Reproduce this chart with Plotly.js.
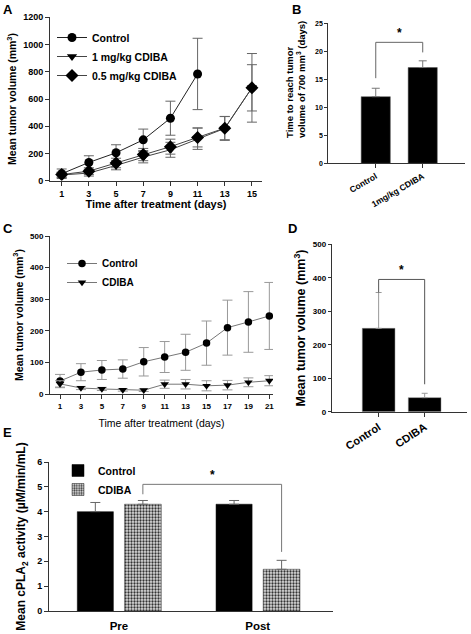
<!DOCTYPE html>
<html><head><meta charset="utf-8">
<script src="https://cdn.plot.ly/plotly-3.0.1.min.js"></script>
<style>html,body{margin:0;padding:0;background:#fff}#chart{width:471px;height:634px}</style>
</head><body><div id="chart"></div>
<script>
// ---------- Panel A ----------
const daysA = [1, 3, 5, 7, 9, 11, 13, 15];
const daysAControl = [1, 3, 5, 7, 9, 11];
const controlA = [51, 134, 205, 300, 459, 784];
const controlAErr = [35, 49, 59, 79, 125, 262];
const cdiba1A = [42, 56, 112, 173, 227, 308, 384, 682];
const cdiba1AErr = [18, 22, 32, 42, 55, 78, 88, 252];
const cdiba05A = [45, 70, 130, 192, 250, 318, 386, 682];
const cdiba05AErr = [18, 25, 35, 45, 55, 70, 85, 170];
// ---------- Panel B ----------
const catsB = ['Control', '1mg/kg CDIBA'];
const valsB = [11.9, 17.1];
const errB = [1.5, 1.2];
// ---------- Panel C ----------
const daysC = [1, 3, 5, 7, 9, 11, 13, 15, 17, 19, 21];
const controlC = [41, 69, 76, 79, 102, 117, 132, 161, 210, 228, 247];
const controlCErr = [21, 27, 30, 29, 45, 49, 57, 70, 87, 96, 106];
const cdibaC = [32, 19, 16, 13, 12, 31, 31, 26, 28, 37, 42];
const cdibaCErr = [10, 5, 5, 4, 4, 13, 15, 16, 15, 14, 16];
// ---------- Panel D ----------
const catsD = ['Control', 'CDIBA'];
const valsD = [249, 42];
const errD = [107, 13];
// ---------- Panel E ----------
const catsE = ['Pre', 'Post'];
const controlE = [4.0, 4.3];
const controlEErr = [0.37, 0.15];
const cdibaE = [4.3, 1.68];
const cdibaEErr = [0.15, 0.36];

const W = 471, H = 634;
const FONT = 'Liberation Sans, Arial, sans-serif';
const px = v => v / W;
const py = v => 1 - v / H;
const AX = '#333';

function errY(arr, color, thick, w, minus) {
  const o = {type: 'data', array: arr, color: color, thickness: thick, width: w, visible: true};
  if (minus) o.arrayminus = minus;
  return o;
}

const traces = [
  // A
  {x: daysAControl, y: controlA, xaxis: 'x', yaxis: 'y', mode: 'lines+markers', name: 'Control',
   line: {color: '#222', width: 1}, marker: {symbol: 'circle', size: 9, color: '#000'},
   error_y: errY(controlAErr, '#666', 1, 5), legend: 'legend'},
  {x: daysA, y: cdiba1A, xaxis: 'x', yaxis: 'y', mode: 'lines+markers', name: '1 mg/kg CDIBA',
   line: {color: '#444', width: 1}, marker: {symbol: 'triangle-down', size: 9, color: '#000'},
   error_y: errY(cdiba1AErr, '#666', 1, 5), legend: 'legend'},
  {x: daysA, y: cdiba05A, xaxis: 'x', yaxis: 'y', mode: 'lines+markers', name: '0.5 mg/kg CDIBA',
   line: {color: '#444', width: 1}, marker: {symbol: 'diamond', size: 10, color: '#000'},
   error_y: errY(cdiba05AErr, '#666', 1, 5), legend: 'legend'},
  // B
  {type: 'bar', x: catsB, y: valsB, xaxis: 'x2', yaxis: 'y2', width: 0.62, showlegend: false,
   marker: {color: '#000', line: {color: '#555', width: 0.5}},
   error_y: errY(errB, '#777', 1, 4, [0, 0])},
  // C
  {x: daysC, y: controlC, xaxis: 'x3', yaxis: 'y3', mode: 'lines+markers', name: 'Control',
   line: {color: '#777', width: 1}, marker: {symbol: 'circle', size: 7.5, color: '#000'},
   error_y: errY(controlCErr, '#999', 1, 5), legend: 'legend2'},
  {x: daysC, y: cdibaC, xaxis: 'x3', yaxis: 'y3', mode: 'lines+markers', name: 'CDIBA',
   line: {color: '#777', width: 1}, marker: {symbol: 'triangle-down', size: 7.5, color: '#000'},
   error_y: errY(cdibaCErr, '#999', 1, 5), legend: 'legend2'},
  // D
  {type: 'bar', x: catsD, y: valsD, xaxis: 'x4', yaxis: 'y4', width: 0.71, showlegend: false,
   marker: {color: '#000', line: {color: '#888', width: 0.5}},
   error_y: errY(errD, '#999', 1, 3, [0, 0])},
  // E
  {type: 'bar', x: catsE, y: controlE, xaxis: 'x5', yaxis: 'y5', name: 'Control',
   offset: -0.30, width: 0.26, marker: {color: '#000', line: {color: '#000', width: 0.5}},
   error_y: errY(controlEErr, '#666', 1, 5, [0, 0]), legend: 'legend3'},
  {type: 'bar', x: catsE, y: cdibaE, xaxis: 'x5', yaxis: 'y5', name: 'CDIBA',
   offset: 0.04, width: 0.265,
   marker: {color: '#ccc', line: {color: '#333', width: 0.5},
            pattern: {shape: '.', fgcolor: '#333', bgcolor: '#ddd', size: 3, solidity: 0.45}},
   error_y: errY(cdibaEErr, '#666', 1, 5, [0, 0]), legend: 'legend3'}
];

function baseAxis(extra) {
  return Object.assign({
    showgrid: false, zeroline: false, showline: true, linecolor: AX, linewidth: 1,
    ticks: 'outside', ticklen: 4, tickcolor: AX, tickwidth: 1,
    tickfont: {family: FONT, size: 9, color: '#000', weight: 'bold'},
    fixedrange: true
  }, extra);
}
function ttl(text, size, weight, standoff) {
  return {text: text, font: {family: FONT, size: size, color: '#000', weight: weight || 'bold'}, standoff: standoff};
}

// significance brackets (derived from data)
const bLeft = valsB[0] + errB[0] + 1.8, bRight = valsB[1] + errB[1] + 1.5, bLevel = 21.6;
const dLeft = valsD[0] + errD[0], dRight = valsD[1] + errD[1] + 27, dLevel = 395;
const eLeftX = 0 + 0.04 + 0.265 / 2, eRightX = 1 + 0.04 + 0.265 / 2;
const eLeft = cdibaE[0] + cdibaEErr[0] + 0.25, eRight = cdibaE[1] + cdibaEErr[1] + 0.34, eLevel = 5.1;

const shapes = [
  {type: 'path', xref: 'x2', yref: 'y2', path: `M0,${bLeft} L0,${bLevel} L1,${bLevel} L1,${bRight}`,
   line: {color: '#666', width: 1}},
  {type: 'path', xref: 'x4', yref: 'y4', path: `M0,${dLeft} L0,${dLevel} L1,${dLevel} L1,${dRight}`,
   line: {color: '#555', width: 1}},
  {type: 'path', xref: 'x5', yref: 'y5', path: `M${eLeftX},${eLeft} L${eLeftX},${eLevel} L${eRightX},${eLevel} L${eRightX},${eRight}`,
   line: {color: '#777', width: 1}}
];

function star(xref, yref, x, y) {
  return {xref: xref, yref: yref, x: x, y: y, text: '*', showarrow: false, yanchor: 'bottom',
          font: {family: FONT, size: 12, color: '#000', weight: 'bold'}};
}
function plabel(t, x, y) {
  return {xref: 'paper', yref: 'paper', x: px(x), y: py(y), text: t, showarrow: false,
          xanchor: 'left', yanchor: 'middle', font: {family: FONT, size: 13, color: '#000', weight: 'bold'}};
}

const annotations = [
  plabel('A', 1, 9), plabel('B', 290, 9), plabel('C', 1, 229), plabel('D', 286, 228), plabel('E', 1, 432),
  star('x2', 'y2', 0.5, bLevel), star('x4', 'y4', 0.5, dLevel), star('x5', 'y5', 0.5 + 0.04 + 0.265 / 2, eLevel),
  // panel B y-axis title (two left-aligned lines)
  {xref: 'paper', yref: 'paper', x: px(295), y: py(80), text: 'Time to reach tumor<br>volume of 700 mm<sup>3</sup> (days)',
   textangle: -90, align: 'left', showarrow: false, xanchor: 'center', yanchor: 'middle',
   font: {family: FONT, size: 9.5, color: '#000', weight: 'bold'}}
];

const legendFont = {family: FONT, size: 10.5, color: '#000', weight: 'bold'};

const layout = {
  width: W, height: H, margin: {l: 0, r: 0, t: 0, b: 0},
  paper_bgcolor: '#fff', plot_bgcolor: 'rgba(0,0,0,0)',
  barmode: 'overlay', showlegend: true,
  font: {family: FONT, color: '#000'},
  // A
  xaxis: baseAxis({domain: [px(50), px(262)], range: [0.14, 15.74], tickvals: daysA, anchor: 'y',
    title: ttl('Time after treatment (days)', 11, 'bold', 1)}),
  yaxis: baseAxis({domain: [py(180.7), py(17.3)], range: [0, 1200], dtick: 200, anchor: 'x',
    title: ttl('Mean tumor volume (mm<sup>3</sup>)', 10.5, 'bold', 4)}),
  // B
  xaxis2: baseAxis({domain: [px(328.3), px(465)], type: 'category', range: [-1.01, 1.9], anchor: 'y2',
    tickangle: -30, tickfont: {family: FONT, size: 8.5, color: '#000', weight: 'bold'}}),
  yaxis2: baseAxis({domain: [py(163.3), py(23.3)], range: [0, 25], dtick: 5, anchor: 'x2', ticklen: 3,
    tickfont: {family: FONT, size: 7, color: '#000', weight: 'bold'}}),
  // C
  xaxis3: baseAxis({domain: [px(50), px(273)], range: [0.044, 21.35], tickvals: daysC, anchor: 'y3',
    tickfont: {family: FONT, size: 8, color: '#000', weight: 'bold'},
    title: ttl('Time after treatment (days)', 10.5, 'normal', 10)}),
  yaxis3: baseAxis({domain: [py(394), py(236)], range: [0, 500], dtick: 100, anchor: 'x3',
    tickfont: {family: FONT, size: 8, color: '#000', weight: 'bold'},
    title: ttl('Mean tumor volume (mm<sup>3</sup>)', 10.5, 'bold', 4)}),
  // D
  xaxis4: baseAxis({domain: [px(331.7), px(467)], type: 'category', range: [-1.02, 1.92], anchor: 'y4',
    tickangle: -33, tickfont: {family: FONT, size: 11, color: '#000', weight: 'bold'}}),
  yaxis4: baseAxis({domain: [py(411.7), py(244.3)], range: [0, 500], dtick: 100, anchor: 'x4', ticklen: 3,
    tickfont: {family: FONT, size: 8, color: '#000', weight: 'bold'},
    title: ttl('Mean tumor volume (mm<sup>3</sup>)', 12.5, 'bold', 4)}),
  // E
  xaxis5: baseAxis({domain: [px(49), px(333)], type: 'category', range: [-0.504, 1.543], anchor: 'y5',
    ticks: '', ticklabelstandoff: 4, tickfont: {family: FONT, size: 11.5, color: '#000', weight: 'bold'}}),
  yaxis5: baseAxis({domain: [py(611), py(462)], range: [0, 6], dtick: 1, anchor: 'x5',
    tickfont: {family: FONT, size: 9, color: '#000', weight: 'bold'},
    title: ttl('Mean cPLA<sub>2</sub> activity (µM/min/mL)', 12, 'bold', 8)}),
  legend: {x: px(52), y: py(23), xanchor: 'left', yanchor: 'top', bgcolor: 'rgba(0,0,0,0)',
    font: legendFont, itemclick: false},
  legend2: {x: px(62), y: py(249), xanchor: 'left', yanchor: 'top', bgcolor: 'rgba(0,0,0,0)',
    font: Object.assign({}, legendFont, {size: 10}), itemclick: false},
  legend3: {x: px(58), y: py(456), xanchor: 'left', yanchor: 'top', bgcolor: 'rgba(0,0,0,0)',
    font: legendFont, itemclick: false},
  shapes: shapes,
  annotations: annotations
};

Plotly.newPlot('chart', traces, layout, {displayModeBar: false, staticPlot: true});
</script>
</body></html>
